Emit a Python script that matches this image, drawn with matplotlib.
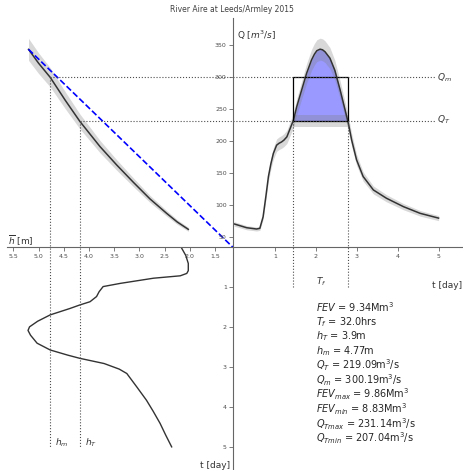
import matplotlib
matplotlib.use('Agg')
import matplotlib.pyplot as plt
import numpy as np

# hydrograph Q(t)
t_q = [0.0, 0.31, 0.55, 0.63, 0.71, 0.78, 0.84, 0.90, 0.96, 1.04, 1.10, 1.16, 1.22, 1.29,
       1.37, 1.45, 1.53, 1.65, 1.77, 1.89, 1.96, 2.02, 2.10, 2.16, 2.22, 2.34, 2.46,
       2.59, 2.71, 2.79, 2.87, 2.99, 3.15, 3.40, 3.72, 4.13, 4.54, 4.99]
q_t = [71, 65, 63, 64, 82, 115, 145, 165, 181, 194, 197, 199, 202, 207,
       220, 233, 254, 280, 306, 327, 336, 341.6, 344, 343, 340, 330, 311,
       280, 249, 228, 202, 171, 145, 124, 111, 98, 87.5, 80]

# rating curve h(Q)
h_rc = [2.03, 2.25, 2.46, 2.79, 3.12, 3.45, 3.78, 4.18, 4.47, 4.77, 5.00, 5.20]
q_rc = [62.5, 74, 87.5, 110, 136, 163, 191.6, 231, 264, 300, 322, 343.7]

# linear (blue dashed) relation
h_lin = [5.20, 1.10]
q_lin = [343.7, 31.0]

# water level h(t)
t_h = [0.02, 0.20, 0.40, 0.58, 0.65, 0.71, 0.77, 0.90, 0.98, 1.11, 1.23, 1.36, 1.44,
       1.53, 1.69, 1.85, 1.99, 2.08, 2.20, 2.40, 2.57, 2.70, 2.78, 2.91, 3.05, 3.16,
       3.50, 3.83, 4.10, 4.41, 4.70, 5.0]
h_t = [2.16, 2.08, 2.03, 2.03, 2.06, 2.19, 2.72, 3.38, 3.72, 3.80, 3.85, 3.98, 4.18,
       4.38, 4.77, 5.02, 5.18, 5.21, 5.16, 5.03, 4.77, 4.42, 4.18, 3.70, 3.40, 3.25,
       3.05, 2.86, 2.73, 2.59, 2.48, 2.36]

# threshold values as drawn
Q_m = 300
Q_T = 231
Q_T_band = [222, 241]
h_m = 4.77
h_T = 4.18
t_start = 1.43
t_end = 2.79

stats = [r'$FEV$ = 9.34Mm$^3$',
         r'$T_f$ = 32.0hrs',
         r'$h_T$ = 3.9m',
         r'$h_m$ = 4.77m',
         r'$Q_T$ = 219.09m$^3$/s',
         r'$Q_m$ = 300.19m$^3$/s',
         r'$FEV_{max}$ = 9.86Mm$^3$',
         r'$FEV_{min}$ = 8.83Mm$^3$',
         r'$Q_{Tmax}$ = 231.14m$^3$/s',
         r'$Q_{Tmin}$ = 207.04m$^3$/s']

W, H = 464, 470


def rect(x0, y0, x1, y1):
    return [x0 / W, 1 - y1 / H, (x1 - x0) / W, (y1 - y0) / H]


fig = plt.figure(figsize=(W / 100, H / 100), dpi=100)
ax1 = fig.add_axes(rect(7, 18, 233, 247.5))     # rating curve
ax2 = fig.add_axes(rect(233, 18, 464, 247.5))   # hydrograph
ax3 = fig.add_axes(rect(7, 247.5, 233, 470))    # h(t)

h_lim = (5.627, 1.143)
q_lim = (34.1, 392.7)

spine_col = '0.4'
line_col = '0.2'
dot_kw = dict(color='0.3', ls=':', lw=0.8)

for ax in (ax1, ax2, ax3):
    for s in ax.spines.values():
        s.set_visible(False)
        s.set_color(spine_col)
        s.set_linewidth(0.8)
    ax.tick_params(labelsize=4.5, length=3, width=0.6, color=spine_col,
                   labelcolor='0.3', pad=1.5)
    ax.patch.set_alpha(0)

# --- rating curve
q_rc_arr = np.array(q_rc)
ax1.fill_between(h_rc, q_rc_arr * 0.95, q_rc_arr * 1.05, color='gray', alpha=0.3, lw=0)
ax1.plot(h_rc, q_rc, color=line_col, lw=1.1)
ax1.plot(h_lin, q_lin, color='blue', ls='--', lw=1.2)
ax1.plot([h_m, h_lim[1]], [Q_m, Q_m], **dot_kw)
ax1.plot([h_T, h_lim[1]], [Q_T, Q_T], **dot_kw)
ax1.plot([h_m, h_m], [Q_m, q_lim[0]], **dot_kw)
ax1.plot([h_T, h_T], [Q_T, q_lim[0]], **dot_kw)
ax1.set_xlim(h_lim)
ax1.set_ylim(q_lim)
ax1.spines['bottom'].set_visible(True)
ax1.set_xticks([5.5, 5.0, 4.5, 4.0, 3.5, 3.0, 2.5, 2.0, 1.5])
ax1.set_xticklabels(['5.5', '5.0', '4.5', '4.0', '3.5', '3.0', '2.5', '2.0', '1.5'])
ax1.set_yticks([])

# --- hydrograph
q_arr = np.array(q_t)
ax2.fill_between(t_q, Q_T, q_arr, where=q_arr >= Q_T, interpolate=True,
                 color='blue', alpha=0.4, lw=0)
ax2.fill_between(t_q, q_arr * 0.95, q_arr * 1.05, color='gray', alpha=0.3, lw=0)
ax2.fill_between([t_start, t_end], Q_T_band[0], Q_T_band[1], color='gray', alpha=0.3, lw=0)
ax2.plot(t_q, q_t, color=line_col, lw=1.1)
ax2.plot([t_start, t_end, t_end, t_start, t_start], [Q_T, Q_T, Q_m, Q_m, Q_T],
         color='black', lw=0.9)
ax2.plot([-0.1, 4.91], [Q_m, Q_m], **dot_kw)
ax2.plot([-0.1, 4.91], [Q_T, Q_T], **dot_kw)
ax2.plot([t_start, t_start], [Q_T, -28], clip_on=False, **dot_kw)
ax2.plot([t_end, t_end], [Q_T, -28], clip_on=False, **dot_kw)
ax2.set_xlim(-0.024, 5.61)
ax2.set_ylim(q_lim)
ax2.spines['left'].set_visible(True)
ax2.spines['bottom'].set_visible(True)
ax2.set_xticks([1, 2, 3, 4, 5])
ax2.set_yticks([50, 100, 150, 200, 250, 300, 350])
ax2.text(4.95, Q_m, r'$Q_m$', fontsize=6.5, va='center', ha='left', color='0.2')
ax2.text(4.95, Q_T + 3, r'$Q_T$', fontsize=6.5, va='center', ha='left', color='0.2')
ax2.text(2.14, -20, r'$T_f$', fontsize=6.5, va='center', ha='center', color='0.2')

# --- h(t)
ax3.plot(h_t, t_h, color=line_col, lw=1.0)
ax3.plot([h_m, h_m], [0, 5.0], **dot_kw)
ax3.plot([h_T, h_T], [0, 5.0], **dot_kw)
ax3.set_xlim(h_lim)
ax3.set_ylim(5.58, 0)
ax3.spines['left'].set_visible(True)
ax3.spines['left'].set_position(('axes', 1.0))
ax3.set_yticks([1, 2, 3, 4, 5])
ax3.set_xticks([])
ax3.text(h_m - 0.1, 4.9, r'$h_m$', fontsize=6.5, va='center', ha='left', color='0.2')
ax3.text(h_T - 0.1, 4.9, r'$h_T$', fontsize=6.5, va='center', ha='left', color='0.2')

# --- labels and title
fig.text(0.5, 1 - 9 / H, 'River Aire at Leeds/Armley 2015', fontsize=5.5,
         ha='center', va='center', color='0.25')
fig.text(237 / W, 1 - 35 / H, r'Q [$m^3/s$]', fontsize=6.5, ha='left', va='center', color='0.2')
fig.text(8 / W, 1 - 240 / H, r'$\overline{h}$ [m]', fontsize=6.5, ha='left', va='center', color='0.2')
fig.text(462 / W, 1 - 285 / H, 't [day]', fontsize=6.5, ha='right', va='center', color='0.2')
fig.text(230 / W, 1 - 465 / H, 't [day]', fontsize=6.5, ha='right', va='center', color='0.2')

for i, s in enumerate(stats):
    fig.text(316 / W, 1 - (307.3 + i * 14.56) / H, s, fontsize=7, ha='left',
             va='center', color='0.15')

fig.savefig('out.png', dpi=100)
